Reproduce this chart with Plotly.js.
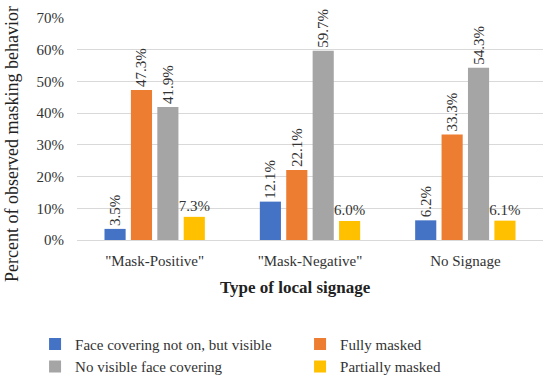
<!DOCTYPE html>
<html>
<head>
<meta charset="utf-8">
<script src="https://cdn.plot.ly/plotly-3.0.1.min.js"></script>
<style>html,body{margin:0;padding:0;background:#fff}#chart{width:550px;height:379px}</style>
</head>
<body>
<div id="chart"></div>
<script>
const categories = ['"Mask-Positive"', '"Mask-Negative"', 'No Signage'];
const seriesNames = ['Face covering not on, but visible', 'Fully masked', 'No visible face covering', 'Partially masked'];
const faceNotOn = [0.035, 0.121, 0.062];
const fullyMasked = [0.473, 0.221, 0.333];
const noVisible = [0.419, 0.597, 0.543];
const partially = [0.073, 0.060, 0.061];
const yTicks = [0, 0.1, 0.2, 0.3, 0.4, 0.5, 0.6, 0.7];
const xTitle = 'Type of local signage';
const yTitle = 'Percent of observed masking behavior';

const FONT = '"Liberation Serif", "DejaVu Serif", serif';
const colors = ['#4472C4', '#ED7D31', '#A5A5A5', '#FFC000'];
const values = [faceNotOn, fullyMasked, noVisible, partially];
const angles = [-90, -90, -90, 0];

const traces = values.map((v, i) => ({
  type: 'bar',
  name: seriesNames[i],
  x: categories,
  y: v,
  marker: {color: colors[i]},
  text: v.map(d => (d * 100).toFixed(1) + '%'),
  texttemplate: '%{text}',
  textposition: 'outside',
  textangle: angles[i],
  constraintext: 'none',
  textfont: {family: FONT, size: 15, color: '#333'},
  cliponaxis: false,
  hoverinfo: 'skip'
}));

const W = 550, H = 379, L = 77, R = 7, T = 18, B = 139;
const pw = W - L - R, ph = H - T - B;
const px = x => (x - L) / pw;          // pixel -> paper x
const py = y => (H - B - y) / ph;      // pixel -> paper y

const layout = {
  width: W, height: H,
  margin: {l: L, r: R, t: T, b: B, autoexpand: false},
  paper_bgcolor: '#fff', plot_bgcolor: '#fff',
  font: {family: FONT, size: 15, color: '#333'},
  barmode: 'group',
  bargap: 0.32,
  bargroupgap: 0.2,
  xaxis: {
    type: 'category',
    tickfont: {family: FONT, size: 15, color: '#333'},
    ticks: '', showline: false,
    ticklabelstandoff: 10,
    automargin: false
  },
  yaxis: {
    range: [0, 0.7],
    tickvals: yTicks,
    tickformat: '.0%',
    tickfont: {family: FONT, size: 15, color: '#333'},
    gridcolor: '#D9D9D9', gridwidth: 1,
    zeroline: true, zerolinecolor: '#D9D9D9', zerolinewidth: 1,
    ticks: '', ticklen: 0,
    ticklabelstandoff: 12,
    automargin: false
  },
  annotations: [
    {text: '<b>' + xTitle + '</b>', xref: 'paper', yref: 'paper', x: px(295), y: py(287),
     xanchor: 'center', yanchor: 'middle', showarrow: false,
     font: {family: FONT, size: 17, color: '#222'}},
    {text: yTitle, xref: 'paper', yref: 'paper', x: px(12), y: py(144), textangle: -90,
     xanchor: 'center', yanchor: 'middle', showarrow: false,
     font: {family: FONT, size: 18, color: '#222'}}
  ],
  showlegend: true,
  legend: {
    orientation: 'h',
    x: -0.09, xanchor: 'left',
    y: -0.395, yanchor: 'top',
    entrywidth: 220, entrywidthmode: 'pixels',
    tracegroupgap: 0,
    font: {family: FONT, size: 15, color: '#333'},
    traceorder: 'normal'
  }
};

Plotly.newPlot('chart', traces, layout, {displayModeBar: false, staticPlot: true});
</script>
</body>
</html>
